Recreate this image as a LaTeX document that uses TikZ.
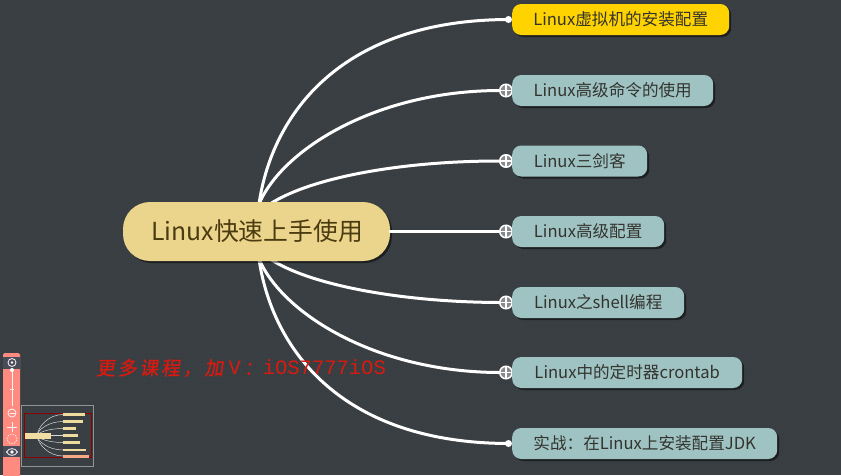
\documentclass[tikz,border=0pt]{standalone}
\usepackage{fontspec}
\setmainfont{Noto Sans CJK SC}
\newfontfamily\redcjk[LetterSpace=14,FakeSlant=0.15,FakeBold=0.6]{Noto Sans CJK SC}
\newfontfamily\redlat{Liberation Mono}
\usetikzlibrary{shadows}
\definecolor{bgc}{HTML}{393E42}
\definecolor{gridc}{HTML}{3E4347}
\definecolor{hubc}{HTML}{EBD58C}
\definecolor{topicc}{HTML}{9FC3C3}
\definecolor{activec}{HTML}{FFD300}
\definecolor{inkc}{HTML}{33342E}
\definecolor{hubink}{HTML}{4A3B10}
\definecolor{toolc}{HTML}{FF8B80}
\definecolor{toolband}{HTML}{474B5A}
\definecolor{redmark}{HTML}{D81A10}
\tikzset{
  x=1pt,y=-1pt,
  topic/.style={rounded corners=9pt,draw=none,minimum height=31pt,inner sep=0pt,anchor=west,
    font=\fontsize{16.6}{19}\selectfont,text=inkc,
    drop shadow={shadow xshift=2pt,shadow yshift=-2pt,opacity=.5,fill=black}},
  hub/.style={rounded corners=27pt,fill=hubc,minimum width=267pt,minimum height=59pt,inner sep=0pt,
    font=\fontsize{24.8}{30}\selectfont,text=hubink,
    drop shadow={shadow xshift=2pt,shadow yshift=-2pt,opacity=.5,fill=black}},
  link/.style={draw=white,line width=3pt,line cap=round},
  plus/.style={circle,draw=white,fill=bgc!60!white,line width=1.5pt,minimum size=12.5pt,inner sep=0pt,
    path picture={\draw[white,line width=1.5pt]
      (path picture bounding box.west)--(path picture bounding box.east)
      (path picture bounding box.north)--(path picture bounding box.south);}},
  dot/.style={circle,fill=white,minimum size=7pt,inner sep=0pt},
  mini/.style={line width=2.2pt,draw=hubc!85!white},
  minicurve/.style={draw=white!70!gray,line width=.5pt},
  icon/.style={draw=white!92!toolc,line width=.8pt},
}
\begin{document}
\begin{tikzpicture}
\useasboundingbox (0,0) rectangle (841,475);
\fill[bgc] (0,0) rectangle (841,475);
\foreach \gx in {0,4,...,840} \draw[gridc,line width=.25pt,opacity=.35] (\gx,0)--(\gx,475);
\foreach \gy in {0,4,...,472} \draw[gridc,line width=.25pt,opacity=.35] (0,\gy)--(841,\gy);

\coordinate (hubnw) at (259,204);
\coordinate (hubsw) at (259,259);
\coordinate (hubne) at (270,204);
\coordinate (hubse) at (270,259);

\node[dot] (d1) at (508.5,19.5) {};
\node[plus] (d2) at (506,90.5) {};
\node[plus] (d3) at (506,161) {};
\node[plus] (d4) at (506,231.5) {};
\node[plus] (d5) at (506,302.5) {};
\node[plus] (d6) at (506,372.5) {};
\node[dot] (d7) at (508.5,443.5) {};

\draw[link] (hubnw) .. controls (272,115) and (340,20) .. (d1.center);
\draw[link] (hubnw) .. controls (282,150) and (375,91) .. (d2.west);
\draw[link] (hubne) .. controls (310,178) and (400,161) .. (d3.west);
\draw[link] (hubse) .. controls (310,285) and (400,302) .. (d5.west);
\draw[link] (hubsw) .. controls (282,313) and (375,372) .. (d6.west);
\draw[link] (hubsw) .. controls (272,348) and (340,443) .. (d7.center);

\node[hub] (hubnode) at (256.5,231.5) {\hspace{1pt}Linux快速上手使用};
\draw[link] (hubnode.east) -- (d4.west);

\node[topic,fill=activec,minimum width=217pt] (t1) at (512,19.5) {Linux虚拟机的安装配置};
\node[topic,fill=topicc,minimum width=201pt] (t2) at (512,90.5) {Linux高级命令的使用};
\node[topic,fill=topicc,minimum width=135pt] (t3) at (512,161) {Linux三剑客};
\node[topic,fill=topicc,minimum width=152pt] (t4) at (512,231.5) {Linux高级配置};
\node[topic,fill=topicc,minimum width=172pt] (t5) at (512,302.5) {Linux之shell编程};
\node[topic,fill=topicc,minimum width=230pt] (t6) at (512,372.5) {Linux中的定时器crontab};
\node[topic,fill=topicc,minimum width=265pt] (t7) at (512,443.5) {实战：在Linux上安装配置JDK};

\node[anchor=west,inner sep=0pt,text=redmark,font=\fontsize{19}{21}\selectfont] (wm) at (96,368)
  {{\redcjk 更多课程，加}\hspace{5pt}{\fontsize{20.5}{22}\redlat V}\hspace{3pt}{\redcjk ：}{\fontsize{20.5}{22}\redlat iOS7777iOS}};

% toolbar
\fill[toolc,rounded corners=1.5pt] (3,353) rectangle (20,480);
\fill[toolband] (3,357) rectangle (20,369);
\fill[toolband] (3,446) rectangle (20,457);
\draw[icon] (12,362.5) circle (4pt);
\fill[white] (12,362.5) circle (1.3pt);
\draw[icon] (12,370)--(12,406);
\fill[white] (12,370) circle (2pt);
\draw[icon] (10,389)--(14,389);
\draw[icon] (12,413) circle (4pt);
\draw[icon] (9.5,413)--(14.5,413);
\draw[icon] (7,427)--(17,427) (12,422)--(12,432);
\draw[icon,densely dotted] (12,439) circle (5pt);
\draw[icon] (6.5,452) .. controls (9,447.5) and (15,447.5) .. (17.5,452) .. controls (15,456.5) and (9,456.5) .. (6.5,452);
\fill[white] (12,452) circle (1.8pt);

% minimap
\draw[gray!85!white,line width=.9pt] (21,405) rectangle (93,466.5);
\draw[red!55!black,line width=1pt] (24,413) rectangle (91,457);
\foreach \my in {414.5,421.5,428.5,435.5,442.5,450,456}
  \draw[minicurve] (37,435.5) .. controls (38,{435.5+(\my-435.5)*.4}) and (48,\my) .. (63,\my);
\fill[hubc!80!white] (24.5,433) rectangle (51,439);
\draw[mini] (63,414.5)--(85,414.5);
\draw[mini] (63,421.5)--(83,421.5);
\draw[mini] (63,428.5)--(76,428.5);
\draw[mini] (63,435.5)--(78,435.5);
\draw[mini] (63,442.5)--(80,442.5);
\draw[mini] (63,450)--(86,450);
\draw[line width=2.2pt,draw=toolc!60!hubc] (63,456.5)--(89,456.5);
\end{tikzpicture}
\end{document}
